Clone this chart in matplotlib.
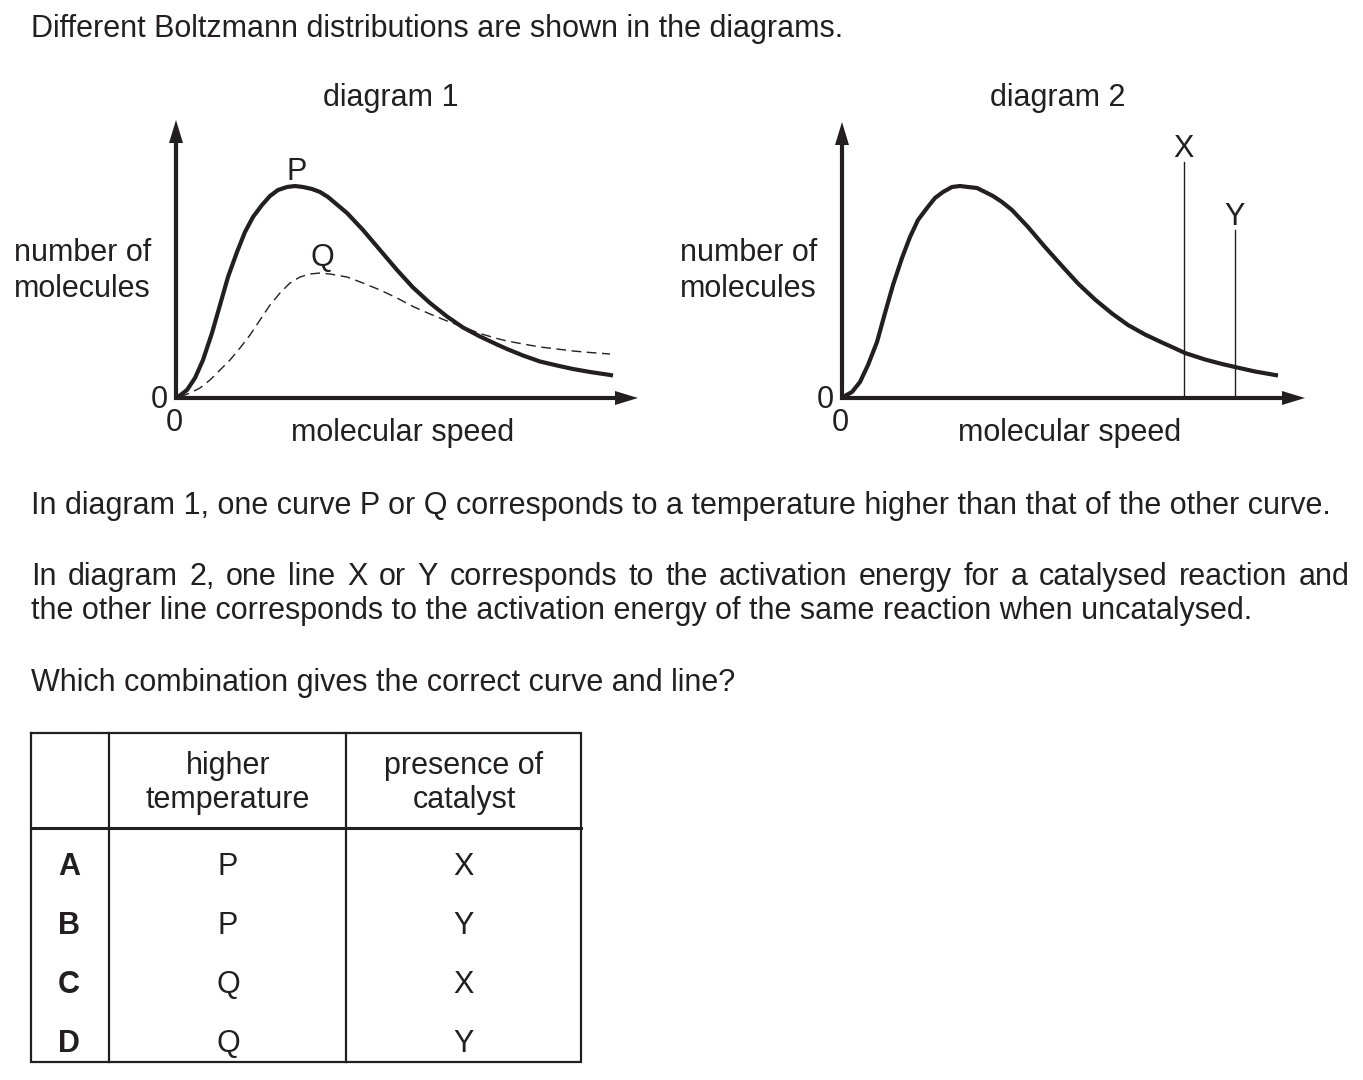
import matplotlib

matplotlib.use("Agg")
import matplotlib.pyplot as plt
from matplotlib.patches import Polygon

W, H = 1363, 1080
INK = "#231f20"
FONT = "Liberation Sans"
SIZE = 22

# diagram 1: speed and number of molecules (pixel units from the origin)
P_SPEED = [2, 11, 19, 27, 36, 44, 52, 61, 69, 77, 86, 94, 102, 111, 119, 127, 136, 144, 152,
           171, 187, 204, 221, 237, 254, 271, 287, 304, 321, 331, 347, 364, 381, 397, 414, 431, 437]
P_COUNT = [1, 8, 20, 38, 65, 93, 121, 146, 166, 181, 193, 202, 208, 211, 212, 211, 209, 206, 201,
           185, 168, 148, 128, 110.5, 95, 81.5, 70.5, 61.5, 53.5, 49, 42.5, 36.5, 32.5, 29, 26,
           23.5, 22.5]
Q_SPEED = [4, 14, 24, 34, 44, 54, 64, 74, 84, 94, 104, 114, 124, 134, 144, 154, 171, 187, 204,
           221, 237, 254, 271, 287, 304, 321, 331, 347, 364, 381, 397, 414, 434]
Q_COUNT = [1, 5, 10, 18, 28, 38, 50, 63, 78, 93, 105, 115, 121, 124, 125, 124, 121, 115, 108,
           100, 91.5, 84, 77, 71, 64.5, 59.5, 57, 54, 51, 49, 47, 45.5, 44]

# diagram 2
D2_SPEED = [1, 10, 18, 26, 35, 43, 51, 60, 68, 76, 85, 93, 101, 110, 118, 126, 135, 143, 151,
            160, 170, 186, 203, 220, 236, 253, 270, 286, 303, 320, 330, 343, 363, 380, 393, 413, 436]
D2_COUNT = [1, 6, 16, 33, 56, 85, 113, 140, 161, 178, 190, 200, 206, 211, 212, 211, 210, 206, 202,
            196, 188, 171, 151, 132, 114.5, 98.5, 84.5, 73, 63.5, 55.5, 51, 45, 38.5, 34, 31, 26.5,
            22.5]
EA_NAMES = ["X", "Y"]
EA_SPEED = [342, 393]
EA_TOP = [236, 168]

# answer table
COLUMNS = [("higher", "temperature"), ("presence of", "catalyst")]
ROW_KEYS = ["A", "B", "C", "D"]
HIGHER_T = ["P", "P", "Q", "Q"]
CATALYST = ["X", "Y", "X", "Y"]

TEXT = dict(family=FONT, fontsize=SIZE, color=INK)


def pix_axes(fig, left, base, width, height):
    # axes placed by its pixel box, base measured from the top of the image
    ax = fig.add_axes([left / W, (H - base) / H, width / W, height / H])
    ax.set_xlim(0, width)
    ax.set_ylim(0, height)
    ax.axis("off")
    ax.patch.set_alpha(0)
    return ax


def frame(ax, width, height):
    head = 23
    ax.plot([0, 0, width - head], [height - head, 0, 0], color=INK, lw=3,
            solid_joinstyle="miter", clip_on=False)
    ax.add_patch(Polygon([(-7, height - head), (0, height), (7, height - head)],
                         closed=True, color=INK, lw=0, clip_on=False))
    ax.add_patch(Polygon([(width - head, -7), (width, 0), (width - head, 7)],
                         closed=True, color=INK, lw=0, clip_on=False))


def justified(ax, text, x0, x1, y, renderer):
    words = text.split()
    items = [ax.text(0, y, w, va="baseline", **TEXT) for w in words]
    widths = [t.get_window_extent(renderer).width for t in items]
    gap = (x1 - x0 - sum(widths)) / (len(words) - 1)
    x = x0
    for t, w in zip(items, widths):
        t.set_x(x)
        x += w + gap


fig = plt.figure(figsize=(W / 100, H / 100), dpi=100)
page = fig.add_axes([0, 0, 1, 1])
page.set_xlim(0, W)
page.set_ylim(H, 0)
page.axis("off")
renderer = fig.canvas.get_renderer()

page.text(31, 37, "Different Boltzmann distributions are shown in the diagrams.",
          va="baseline", **TEXT)

# diagram 1
d1 = pix_axes(fig, 176, 398, 462, 278)
frame(d1, 462, 278)
d1.plot(P_SPEED, P_COUNT, color=INK, lw=3, solid_joinstyle="round", solid_capstyle="butt",
        clip_on=False)
d1.plot(Q_SPEED, Q_COUNT, color=INK, lw=1, dashes=(7, 4), clip_on=False)
page.text(391, 106, "diagram 1", ha="center", va="baseline", **TEXT)
page.text(297, 180, "P", ha="center", va="baseline", **TEXT)
page.text(322, 266, "Q", ha="center", va="baseline", **TEXT)
page.text(14, 261, "number of", va="baseline", **TEXT)
page.text(14, 297, "molecules", va="baseline", **TEXT)
page.text(159, 408, "0", ha="center", va="baseline", **TEXT)
page.text(174, 431, "0", ha="center", va="baseline", **TEXT)
page.text(403, 441, "molecular speed", ha="center", va="baseline", **TEXT)

# diagram 2
d2 = pix_axes(fig, 842, 398, 463, 276)
frame(d2, 463, 276)
d2.plot(D2_SPEED, D2_COUNT, color=INK, lw=3, solid_joinstyle="round", solid_capstyle="butt",
        clip_on=False)
for name, s, top in zip(EA_NAMES, EA_SPEED, EA_TOP):
    d2.plot([s, s], [0, top], color=INK, lw=1)
    d2.text(s, top + 5, name, ha="center", va="baseline", **TEXT)
page.text(1058, 106, "diagram 2", ha="center", va="baseline", **TEXT)
page.text(680, 261, "number of", va="baseline", **TEXT)
page.text(680, 297, "molecules", va="baseline", **TEXT)
page.text(825, 408, "0", ha="center", va="baseline", **TEXT)
page.text(840, 431, "0", ha="center", va="baseline", **TEXT)
page.text(1070, 441, "molecular speed", ha="center", va="baseline", **TEXT)

page.text(31, 514, "In diagram 1, one curve P or Q corresponds to a temperature higher than "
          "that of the other curve.", va="baseline", **TEXT)
justified(page, "In diagram 2, one line X or Y corresponds to the activation energy for a "
          "catalysed reaction and", 31, 1350, 585, renderer)
page.text(31, 619, "the other line corresponds to the activation energy of the same reaction "
          "when uncatalysed.", va="baseline", **TEXT)
page.text(31, 691, "Which combination gives the correct curve and line?", va="baseline", **TEXT)

# table
left, right, top, head, bottom = 31, 581, 733, 828, 1062
col_x = [109, 346]
page.plot([left, right, right, left, left], [top, top, bottom, bottom, top], color=INK, lw=1.6,
          solid_joinstyle="miter")
page.plot([left, right], [head, head], color=INK, lw=2.2)
for cx in col_x:
    page.plot([cx, cx], [top, bottom], color=INK, lw=1.6)
centres = [228, 464]
for cx, (l1, l2) in zip(centres, COLUMNS):
    page.text(cx, 774, l1, ha="center", va="baseline", **TEXT)
    page.text(cx, 808, l2, ha="center", va="baseline", **TEXT)
row_base = [875, 934, 993, 1052]
for y, key, t, c in zip(row_base, ROW_KEYS, HIGHER_T, CATALYST):
    page.text(69, y, key, ha="center", va="baseline", fontweight="bold", **TEXT)
    page.text(centres[0], y, t, ha="center", va="baseline", **TEXT)
    page.text(centres[1], y, c, ha="center", va="baseline", **TEXT)

fig.savefig("out.png", dpi=100)
